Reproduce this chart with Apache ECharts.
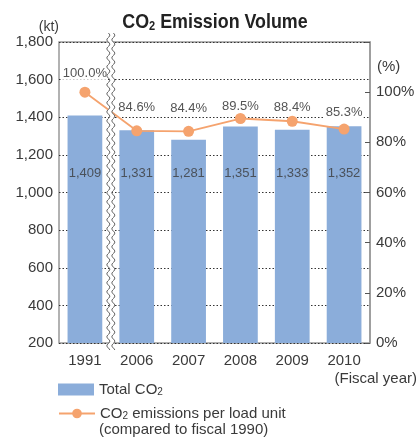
<!DOCTYPE html>
<html>
<head>
<meta charset="utf-8">
<script src="https://cdn.jsdelivr.net/npm/echarts@6/dist/echarts.min.js"></script>
<style>
  html, body { margin: 0; padding: 0; background: #fff; }
  #chart { width: 419px; height: 439px; }
</style>
</head>
<body>
<div id="chart"></div>
<script>
// Fiscal years shown on the horizontal axis
const years = ['1991', '2006', '2007', '2008', '2009', '2010'];
// Total CO2 emissions (kt)
const totalCO2 = [1409, 1331, 1281, 1351, 1333, 1352];
// CO2 emissions per load unit, % of fiscal 1990
const perLoadUnit = [100.0, 84.6, 84.4, 89.5, 88.4, 85.3];
// Height (kt) at which the bar value labels are printed
const barLabelLevel = 1100;

const FONT = '"Liberation Sans", Arial, sans-serif';
const TXT = '#3a3a3a';
const BAR = '#8badda';
const LINE = '#f5a36e';
// gap between each point and its percentage label
const pctLabelGap = [7, 11, 11, 0, 2, 5];

const chart = echarts.init(document.getElementById('chart'), null, { renderer: 'canvas' });

const legendText = { fontSize: 15, color: TXT, fontFamily: FONT,
  rich: { s: { fontSize: 10, color: TXT, fontFamily: FONT, padding: [6, 0, 0, 0] } } };

const option = {
  animation: false,
  textStyle: { fontFamily: FONT, color: TXT },
  grid: { left: 59, right: 49, top: 42, bottom: 96, show: true, borderColor: '#999', borderWidth: 1.5 },
  legend: [
    {
      left: 58, top: 382, padding: 0, itemWidth: 36, itemHeight: 12,
      textStyle: legendText,
      data: [{ name: 'Total CO2', icon: 'rect' }],
      formatter: () => 'Total CO{s|2}'
    },
    {
      left: 58, top: 406, padding: 0, itemWidth: 36, itemHeight: 12,
      textStyle: legendText,
      data: ['CO2 emissions per load unit'],
      formatter: () => 'CO{s|2} emissions per load unit'
    }
  ],
  xAxis: {
    type: 'category', data: years,
    axisLine: { show: false }, axisTick: { show: false },
    axisLabel: { fontSize: 15, color: TXT, margin: 10 }
  },
  yAxis: [
    {
      type: 'value', min: 200, max: 1800, interval: 200,
      axisLine: { show: false }, axisTick: { show: false },
      axisLabel: { fontSize: 15, color: TXT, margin: 6,
        formatter: v => v.toLocaleString('en-US') },
      splitLine: { show: true, lineStyle: { color: '#333', type: [1.5, 2], width: 1 } },
      name: '(kt)', nameLocation: 'end', nameGap: 8,
      nameTextStyle: { fontSize: 14, color: TXT, align: 'right' }
    },
    {
      type: 'value', min: 0, max: 120, interval: 20, position: 'right',
      axisLine: { show: true, lineStyle: { color: '#999', width: 1.5 } },
      axisTick: { show: true, inside: true, length: 5, lineStyle: { color: '#555' } },
      axisLabel: { fontSize: 15, color: TXT, margin: 6,
        formatter: v => (v > 100 ? '' : v + '%') },
      splitLine: { show: false }
    }
  ],
  series: [
    {
      name: 'Total CO2', type: 'bar', data: totalCO2, yAxisIndex: 0,
      barWidth: '67%', itemStyle: { color: BAR }, z: 2
    },
    {
      // bar value labels printed on a common row inside the bars
      name: 'barValues', type: 'scatter', yAxisIndex: 0, symbolSize: 0, silent: true,
      data: years.map((y, i) => [y, barLabelLevel, totalCO2[i]]),
      label: { show: true, position: 'inside', fontSize: 13, color: TXT,
        formatter: p => p.data[2].toLocaleString('en-US') },
      z: 5
    },
    {
      name: 'CO2 emissions per load unit', type: 'line', yAxisIndex: 1,
      data: perLoadUnit.map((v, i) => ({ value: v, label: { distance: pctLabelGap[i] } })),
      symbol: 'circle', symbolSize: 11,
      lineStyle: { color: LINE, width: 1.8 }, itemStyle: { color: LINE },
      label: { show: true, position: 'top', fontSize: 13, color: '#555',
        backgroundColor: '#fff', padding: [1, 1, 0, 1],
        formatter: p => p.value.toFixed(1) + '%' },
      z: 4
    }
  ]
};
chart.setOption(option);

// Axis break between 1991 and 2006, title and captions
function wavy(x0, yTop, yBot) {
  const pts = [];
  for (let y = yTop; y <= yBot; y += 1) {
    pts.push([x0 + 1.5 * Math.sin((y - yTop) / 4.5 * Math.PI), y]);
  }
  return pts;
}
const xa = chart.convertToPixel({ xAxisIndex: 0 }, '1991');
const xb = chart.convertToPixel({ xAxisIndex: 0 }, '2006');
const xm = (xa + xb) / 2;
const yTop = 33, yBot = 350;
const left = wavy(xm - 2.5, yTop, yBot);
const right = wavy(xm + 2.5, yTop, yBot);
chart.setOption({
  graphic: [
    { type: 'polygon', z: 100, shape: { points: left.concat(right.slice().reverse()) },
      style: { fill: '#fff', stroke: null } },
    { type: 'polyline', z: 101, shape: { points: left }, style: { stroke: '#666', lineWidth: 1, fill: null } },
    { type: 'polyline', z: 101, shape: { points: right }, style: { stroke: '#666', lineWidth: 1, fill: null } },
    { type: 'text', x: 215, y: 22, scaleX: 0.85, z: 101,
      style: { text: 'CO{t|2} Emission Volume', fontSize: 21, fontWeight: 'bold', fill: '#222',
        fontFamily: FONT, align: 'center', verticalAlign: 'middle',
        rich: { t: { fontSize: 13, fontWeight: 'bold', fill: '#222', fontFamily: FONT, padding: [9, 0, 0, 0] } } } },
    { type: 'text', left: 377, top: 59, z: 101,
      style: { text: '(%)', fontSize: 15, fill: TXT, fontFamily: FONT } },
    { type: 'text', right: 2, top: 371, z: 101,
      style: { text: '(Fiscal year)', fontSize: 15, fill: TXT, fontFamily: FONT } },
    { type: 'text', left: 99, top: 422, z: 101,
      style: { text: '(compared to fiscal 1990)', fontSize: 15, fill: TXT, fontFamily: FONT } }
  ]
});
</script>
</body>
</html>
